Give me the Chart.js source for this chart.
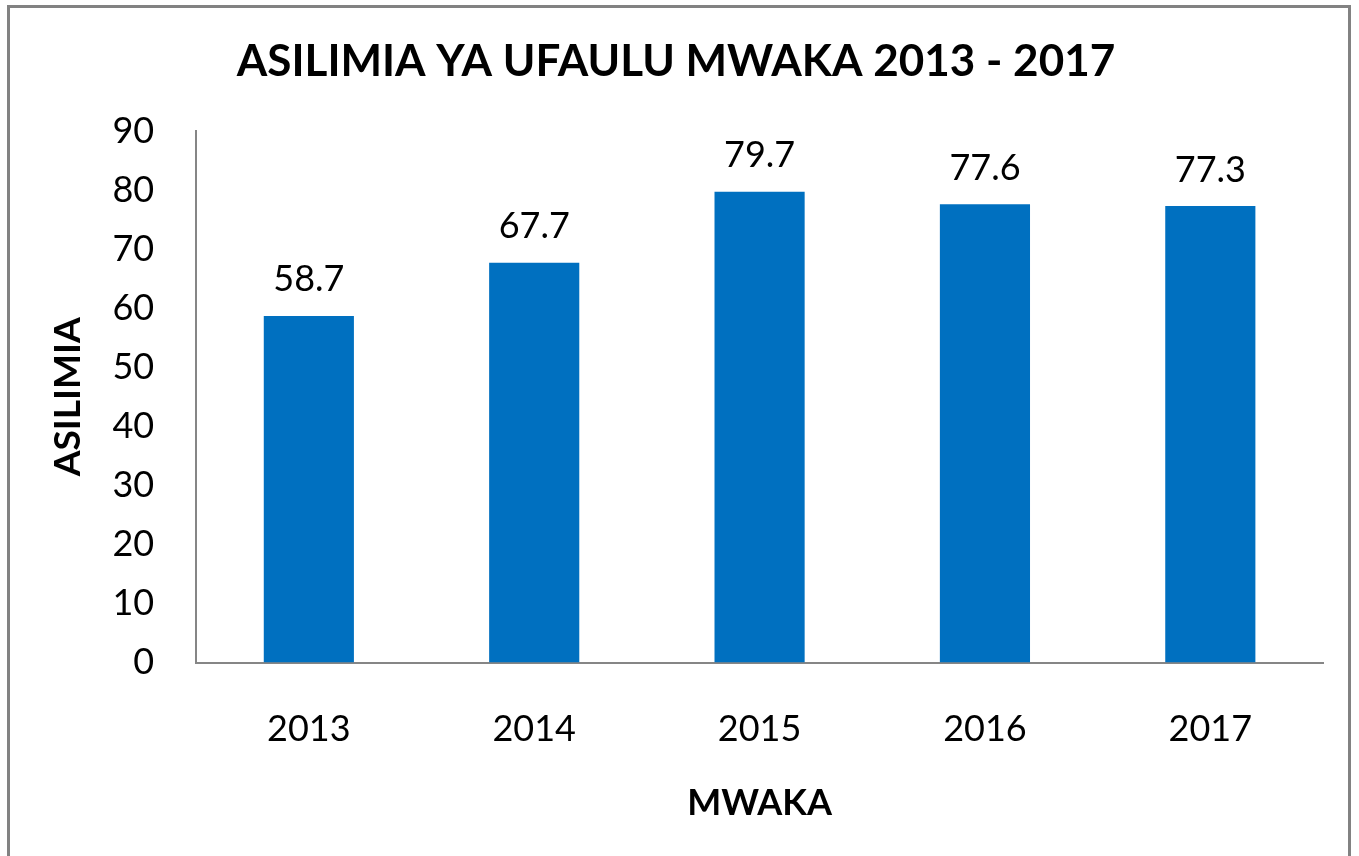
<!DOCTYPE html>
<html>
<head>
<meta charset="utf-8">
<script src="https://cdn.jsdelivr.net/npm/chart.js@4/dist/chart.umd.min.js"></script>
<style>
    html, body { margin: 0; padding: 0; background: #fff; }
    #wrap { position: relative; width: 1359px; height: 856px; overflow: hidden; }
    #frame {
        position: absolute; left: 7px; top: 5px; width: 1338px; height: 900px;
        border: 3px solid #828282; pointer-events: none;
    }
    canvas { position: absolute; left: 0; top: 0; }
</style>
</head>
<body>
<div id="wrap">
    <canvas id="ufaulu-chart" width="1359" height="856"></canvas>
    <div id="frame"></div>
</div>
<script>
(function () {
    "use strict";

    // Data
    const years = ["2013", "2014", "2015", "2016", "2017"];
    const asilimia = [58.7, 67.7, 79.7, 77.6, 77.3];
    const yTicks = [0, 10, 20, 30, 40, 50, 60, 70, 80, 90];

    const fontFamily = "Lato, 'Open Sans', sans-serif";
    const axisGrey = "#868686";

    // value labels above each bar
    const barValues = {
        id: "barValues",
        afterDatasetsDraw(chart) {
            const ctx = chart.ctx;
            const meta = chart.getDatasetMeta(0);
            ctx.save();
            ctx.font = "36px " + fontFamily;
            ctx.fillStyle = "#000";
            ctx.textAlign = "center";
            ctx.textBaseline = "middle";
            meta.data.forEach((bar, i) => {
                ctx.fillText(asilimia[i].toFixed(1), bar.x, bar.y - 36);
            });
            ctx.restore();
        },
    };

    const ctx = document.getElementById("ufaulu-chart").getContext("2d");
    new Chart(ctx, {
        type: "bar",
        data: {
            labels: years,
            datasets: [
                {
                    data: asilimia,
                    backgroundColor: "#0070C0",
                    borderWidth: 0,
                    barPercentage: 0.4,
                    categoryPercentage: 1,
                },
            ],
        },
        options: {
            responsive: false,
            animation: false,
            layout: {
                padding: { left: 29, right: 36, top: 0, bottom: 31 },
            },
            plugins: {
                legend: { display: false },
                tooltip: { enabled: false },
                title: {
                    display: true,
                    text: "ASILIMIA YA UFAULU MWAKA 2013 - 2017",
                    color: "#000",
                    font: { family: fontFamily, size: 44, weight: "bold" },
                    padding: { top: 35.6, bottom: 42.6 },
                },
            },
            scales: {
                x: {
                    grid: { display: false, drawTicks: false },
                    border: { display: true, color: axisGrey, width: 2 },
                    ticks: {
                        color: "#000",
                        font: { family: fontFamily, size: 36 },
                        padding: 45,
                    },
                    title: {
                        display: true,
                        text: "MWAKA",
                        color: "#000",
                        font: { family: fontFamily, size: 36, weight: "bold" },
                        padding: { top: -14, bottom: 0 },
                    },
                },
                y: {
                    min: 0,
                    max: 90,
                    afterBuildTicks: (scale) => {
                        scale.ticks = yTicks.map((v) => ({ value: v }));
                    },
                    grid: { display: false, drawTicks: false },
                    border: { display: true, color: axisGrey, width: 2 },
                    ticks: {
                        color: "#000",
                        font: { family: fontFamily, size: 36 },
                        padding: 42,
                    },
                    title: {
                        display: true,
                        text: "ASILIMIA",
                        color: "#000",
                        font: { family: fontFamily, size: 37, weight: "bold" },
                        padding: { top: 17, bottom: -20 },
                    },
                },
            },
        },
        plugins: [barValues],
    });
})();
</script>
</body>
</html>
